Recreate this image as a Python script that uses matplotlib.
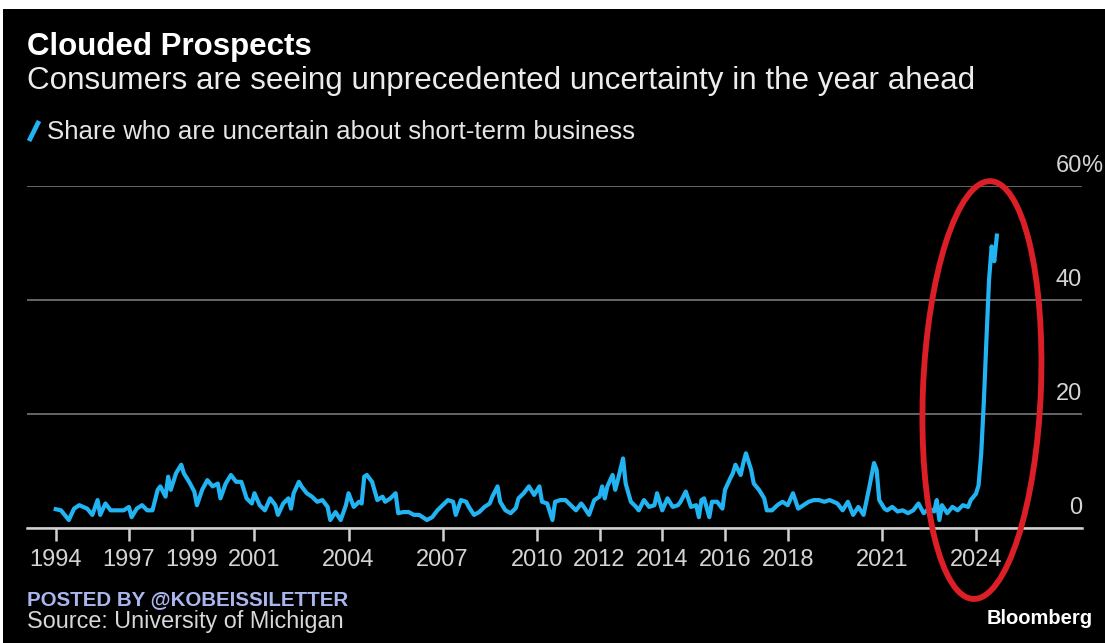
import matplotlib
matplotlib.use("Agg")
import matplotlib.pyplot as plt
import matplotlib.transforms as mtransforms
from matplotlib.patches import Ellipse, Rectangle
from matplotlib.lines import Line2D
import pandas as pd

# ---- data -------------------------------------------------------------
months = [
    "1994-09", "1994-11", "1995-02", "1995-04", "1995-06", "1995-09", "1995-11",
    "1996-01", "1996-02", "1996-04", "1996-06", "1996-08", "1996-11",
    "1997-01", "1997-02", "1997-04", "1997-06", "1997-08", "1997-10", "1997-12",
    "1998-01", "1998-03", "1998-04", "1998-05", "1998-07", "1998-09", "1998-10", "1998-12",
    "1999-02", "1999-03", "1999-05", "1999-07", "1999-09", "1999-11", "1999-12",
    "2000-02", "2000-04", "2000-06", "2000-08", "2000-10", "2000-12",
    "2001-01", "2001-03", "2001-05", "2001-07", "2001-09", "2001-10", "2001-12",
    "2002-02", "2002-03", "2002-04", "2002-06", "2002-07", "2002-09", "2002-11",
    "2003-01", "2003-03", "2003-05", "2003-06", "2003-08", "2003-10", "2003-12",
    "2004-01", "2004-03", "2004-05", "2004-06", "2004-07", "2004-08", "2004-09", "2004-10", "2004-12",
    "2005-02", "2005-03", "2005-05", "2005-07", "2005-08", "2005-10", "2005-12",
    "2006-02", "2006-04", "2006-06", "2006-07", "2006-09", "2006-11",
    "2007-01", "2007-03", "2007-05", "2007-06", "2007-08", "2007-10", "2007-11",
    "2008-01", "2008-03", "2008-05", "2008-07", "2008-08", "2008-10", "2008-11",
    "2009-01", "2009-03", "2009-05", "2009-06", "2009-08", "2009-10", "2009-12",
    "2010-02", "2010-03", "2010-05", "2010-07", "2010-08", "2010-10", "2010-12",
    "2011-02", "2011-04", "2011-06", "2011-07", "2011-09", "2011-11",
    "2012-01", "2012-02", "2012-03", "2012-04", "2012-06", "2012-07", "2012-08", "2012-10", "2012-11",
    "2013-01", "2013-03", "2013-04", "2013-06", "2013-08", "2013-10", "2013-11",
    "2014-01", "2014-03", "2014-05", "2014-07", "2014-08", "2014-10", "2014-12",
    "2015-02", "2015-03", "2015-04", "2015-05", "2015-07", "2015-08", "2015-10", "2015-12",
    "2016-01", "2016-03", "2016-04", "2016-05", "2016-07", "2016-08", "2016-09", "2016-11", "2016-12",
    "2017-02", "2017-04", "2017-05", "2017-07", "2017-09", "2017-11",
    "2018-01", "2018-03", "2018-05", "2018-07", "2018-09", "2018-11",
    "2019-01", "2019-03", "2019-05", "2019-08", "2019-10", "2019-12",
    "2020-02", "2020-04", "2020-06", "2020-08", "2020-10", "2020-11", "2020-12",
    "2021-02", "2021-03", "2021-05", "2021-07", "2021-09", "2021-11",
    "2022-01", "2022-03", "2022-05", "2022-07", "2022-09", "2022-10", "2022-11", "2022-12",
    "2023-02", "2023-04", "2023-06", "2023-08", "2023-10", "2023-11",
    "2024-01", "2024-02", "2024-03", "2024-04", "2024-05", "2024-06", "2024-07", "2024-08", "2024-09",
]

share_uncertain = [
    3.3, 3.1, 1.4, 3.4, 4.0, 3.4, 2.3,
    4.9, 2.3, 4.3, 3.1, 3.1, 3.1,
    3.7, 1.9, 3.4, 4.0, 3.1, 3.1, 6.7,
    7.3, 5.5, 9.0, 6.7, 9.6, 11.1, 9.6, 8.1,
    6.4, 4.0, 6.7, 8.4, 7.3, 7.8, 5.2,
    7.8, 9.3, 8.1, 8.1, 5.2, 4.3,
    6.1, 4.0, 3.1, 5.2, 4.0, 2.3, 4.3,
    5.2, 3.4, 6.1, 8.1, 7.3, 6.1, 5.5,
    4.6, 4.9, 3.7, 1.4, 2.8, 1.4, 4.0,
    6.1, 3.7, 4.6, 4.3, 9.0, 9.3, 8.7, 8.1, 4.9,
    5.5, 4.6, 5.2, 6.1, 2.6, 2.8, 2.8,
    2.3, 2.3, 1.7, 1.4, 1.9, 3.1,
    4.0, 4.9, 4.6, 2.3, 4.9, 4.6, 3.7,
    2.3, 2.8, 3.7, 4.3, 5.5, 7.3, 4.6,
    3.1, 2.6, 3.5, 5.2, 6.1, 7.3, 5.8,
    7.3, 4.6, 4.3, 1.4, 4.6, 4.9, 4.9,
    4.0, 3.1, 4.3, 3.7, 2.3, 4.9,
    5.5, 7.3, 5.2, 7.3, 9.3, 6.7, 8.4, 12.2, 7.8,
    4.6, 3.7, 3.1, 4.9, 3.7, 4.0, 6.1,
    3.1, 5.2, 3.7, 4.0, 4.6, 6.4, 3.7,
    4.0, 1.9, 4.9, 5.2, 1.9, 4.6, 4.6, 3.4,
    6.7, 8.7, 9.6, 11.1, 9.3, 11.4, 13.1, 10.2, 7.8,
    6.7, 5.2, 3.1, 3.1, 4.0, 4.6,
    4.0, 6.1, 3.4, 4.0, 4.6, 4.9,
    4.9, 4.6, 4.9, 4.3, 3.1, 4.6,
    2.3, 3.7, 2.3, 6.7, 11.4, 10.2, 4.9,
    3.4, 3.1, 3.7, 2.9, 3.1, 2.6,
    3.1, 4.3, 2.6, 3.4, 2.9, 4.9, 1.4, 4.0,
    2.6, 3.7, 3.1, 4.0, 3.7, 4.9,
    6.0, 7.5, 13.0, 22.0, 33.0, 43.5, 49.4, 46.8, 51.3,
]

x_tick_years = [1997, 1999, 2001, 2004, 2007, 2010, 2012, 2014, 2016, 2018, 2021, 2024]
y_ticks = [0, 20, 40, 60]

# ---- helpers ------------------------------------------------------------
W, H = 1105, 643
def fx(px):
    return px / W
def fy(py):
    return 1 - py / H

dates = pd.to_datetime(months, format="%Y-%m")
x = dates.year + (dates.month - 1) / 12.0

FONT = "Liberation Sans"
BLUE = "#22b4f2"
plt.rcParams["font.family"] = [FONT, "DejaVu Sans"]

fig = plt.figure(figsize=(W / 100, H / 100), dpi=100, facecolor="black")

# white frame strips along the top and left edges
fig.add_artist(Rectangle((0, fy(9)), 1, 1 - fy(9), transform=fig.transFigure,
                         facecolor="white", edgecolor="none", zorder=0))
fig.add_artist(Rectangle((0, 0), fx(3), 1, transform=fig.transFigure,
                         facecolor="white", edgecolor="none", zorder=0))

ax = fig.add_axes([fx(27), fy(528), fx(1082) - fx(27), fy(186) - fy(528)])
ax.set_facecolor("black")
ax.set_xlim(1993.75, 2027.38)
ax.set_ylim(0, 60)

for s in ["top", "left", "right"]:
    ax.spines[s].set_visible(False)
ax.spines["bottom"].set_color("#d2d2d2")
ax.spines["bottom"].set_linewidth(1.8)

ax.set_yticks(y_ticks)
ax.yaxis.grid(True, color="#6e6e6e", linewidth=1.3)
ax.tick_params(axis="y", length=0, labelleft=False, labelright=False)
ax.set_axisbelow(True)

first = x[0]
ticks = [first] + x_tick_years
labels = ["1994"] + [str(y) for y in x_tick_years]
ax.set_xticks(ticks)
ax.set_xticklabels(labels)
ax.tick_params(axis="x", direction="out", length=9, width=1.8, color="#d2d2d2",
               labelsize=17, labelcolor="#d4d4d4", pad=6)

ax.plot(x, share_uncertain, color=BLUE, linewidth=3.0, solid_joinstyle="round",
        clip_on=False, zorder=3)

# right-side value labels sitting above each gridline
lab_tr = mtransforms.offset_copy(ax.get_yaxis_transform(), fig=fig, x=0, y=14, units="dots")
for v in y_ticks:
    ax.text(1.0, v, str(v), transform=lab_tr, ha="right", va="baseline",
            fontsize=17, color="#d4d4d4")
ax.text(0.999, 60, "%", transform=lab_tr, ha="left", va="baseline",
        fontsize=17, color="#d4d4d4")

# red highlight ring around the latest surge
ax.add_patch(Ellipse((2024.19, 24.2), 3.76, 73.3, angle=-0.4, fill=False,
                     edgecolor="#dc1f26", linewidth=4.2, clip_on=False, zorder=4))

# titles
fig.text(fx(27), fy(55), "Clouded Prospects", fontsize=22.5, fontweight="bold",
         color="white", va="baseline", ha="left")
fig.text(fx(27), fy(89), "Consumers are seeing unprecedented uncertainty in the year ahead",
         fontsize=22.6, color="#ececec", va="baseline", ha="left")

# legend
fig.add_artist(Line2D([fx(29), fx(39)], [fy(141), fy(121)], transform=fig.transFigure,
                      color=BLUE, linewidth=3.4, solid_capstyle="butt"))
fig.text(fx(47), fy(139), "Share who are uncertain about short-term business",
         fontsize=18.6, color="#e6e6e6", va="baseline", ha="left")

# footer
fig.text(fx(27), fy(605), "POSTED BY @KOBEISSILETTER", fontsize=14.8, fontweight="bold",
         color="#aab6ee", va="baseline", ha="left")
fig.text(fx(27), fy(628), "Source: University of Michigan", fontsize=16.8,
         color="#d8d8d8", va="baseline", ha="left")
fig.text(fx(1093), fy(624), "Bloomberg", fontsize=14.5, fontweight="bold",
         color="white", va="baseline", ha="right")

fig.savefig("out.png", dpi=100, facecolor="black")
